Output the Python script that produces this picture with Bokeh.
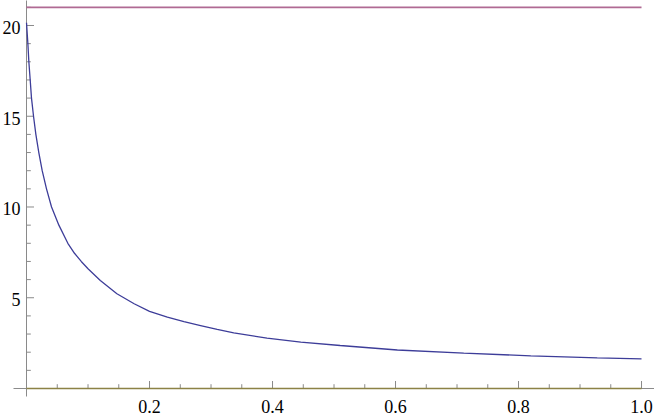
import math
from bokeh.plotting import figure
from bokeh.models import Range1d
from bokeh.core.properties import value
from bokeh.embed import file_html
from bokeh.resources import INLINE

# ---- data ----
curve_x = [0, 0.0022, 0.0038, 0.006, 0.0081, 0.0114, 0.0152, 0.020, 0.0255, 0.0325,
           0.0407, 0.0526, 0.0672, 0.078, 0.089, 0.1, 0.12, 0.147, 0.175, 0.2, 0.229,
           0.256, 0.283, 0.31, 0.337, 0.391, 0.446, 0.51, 0.603, 0.711, 0.82, 0.928, 1.0]
curve_y = [20.15, 19, 18, 17, 16, 15, 14, 13, 12, 11,
           10, 9, 8, 7.45, 7, 6.6, 5.95, 5.22, 4.67, 4.25, 3.93,
           3.68, 3.47, 3.26, 3.07, 2.77, 2.55, 2.37, 2.12, 1.95, 1.80, 1.69, 1.63]
upper_x = [0, 1.0]
upper_y = [21, 21]
lower_x = [0, 1.0]
lower_y = [0, 0]

x_major = [0.2, 0.4, 0.6, 0.8, 1.0]
x_major_labels = ["0.2", "0.4", "0.6", "0.8", "1.0"]
x_minor = [0.05, 0.1, 0.15, 0.25, 0.3, 0.35, 0.45, 0.5, 0.55, 0.65, 0.7, 0.75, 0.85, 0.9, 0.95]
y_major = [5, 10, 15, 20]
y_major_labels = ["5", "10", "15", "20"]
y_minor = [1, 2, 3, 4, 6, 7, 8, 9, 11, 12, 13, 14, 16, 17, 18, 19, 21]

BLUE = "#3D3D99"
RED = "#B06A93"
OLIVE = "#8C8245"
AXIS = "#8a8a8a"
FONT = value("Liberation Serif")

p = figure(width=654, height=417, output_backend="svg", toolbar_location=None,
           x_range=Range1d(-0.0423, 1.0211), y_range=Range1d(-1.598, 21.377),
           min_border=0, outline_line_color=None)
p.axis.visible = False
p.grid.visible = False
p.background_fill_color = "white"

# axes (crossing at origin)
p.ray(x=[0], y=[0], angle=0, length=0, line_color=AXIS, line_width=1)
p.ray(x=[0], y=[0], angle=math.pi, length=13, length_units="screen", line_color=AXIS, line_width=1)
p.ray(x=[0], y=[0], angle=math.pi / 2, length=0, line_color=AXIS, line_width=1)
p.ray(x=[0], y=[0], angle=-math.pi / 2, length=8, length_units="screen", line_color=AXIS, line_width=1)

# ticks
p.ray(x=x_major, y=[0] * len(x_major), angle=math.pi / 2, length=7.5,
      length_units="screen", line_color=AXIS, line_width=1)
p.ray(x=x_minor, y=[0] * len(x_minor), angle=math.pi / 2, length=4.3,
      length_units="screen", line_color=AXIS, line_width=1)
p.ray(x=[0] * len(y_major), y=y_major, angle=0, length=7.5,
      length_units="screen", line_color=AXIS, line_width=1)
p.ray(x=[0] * len(y_minor), y=y_minor, angle=0, length=4.3,
      length_units="screen", line_color=AXIS, line_width=1)

# tick labels
p.text(x=x_major, y=[0] * len(x_major), text=x_major_labels, text_font=FONT,
       text_font_size="18px", text_align="center", text_baseline="middle",
       y_offset=18, text_color="black")
p.text(x=[0] * len(y_major), y=y_major, text=y_major_labels, text_font=FONT,
       text_font_size="18px", text_align="right", text_baseline="middle",
       x_offset=-6, y_offset=2, text_color="black")

# curves
p.line(lower_x, lower_y, line_color=OLIVE, line_width=1.5)
p.line(upper_x, upper_y, line_color=RED, line_width=1.6)
p.line(curve_x, curve_y, line_color=BLUE, line_width=1.3)

open("out.html", "w").write(file_html(p, INLINE))
